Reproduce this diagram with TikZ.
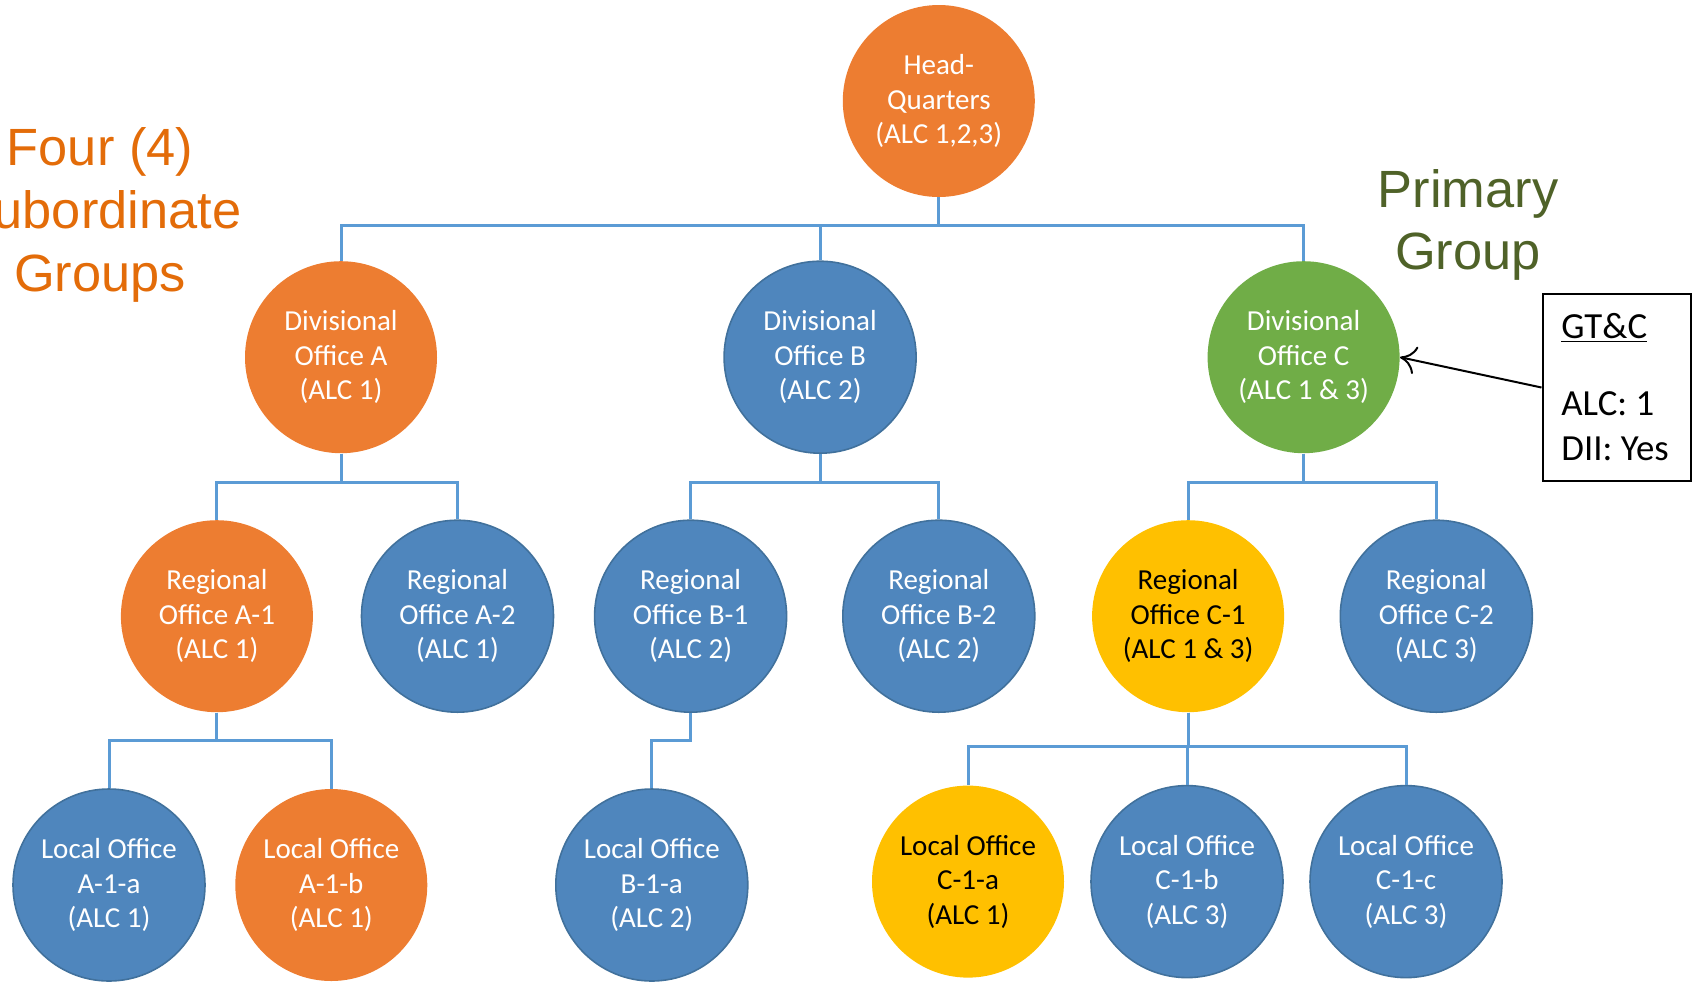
\documentclass[tikz,border=0pt]{standalone}
\usepackage{fontspec}
\setmainfont{Carlito}
\newfontfamily\arialf{Liberation Sans}
\usetikzlibrary{arrows.meta}
\definecolor{orgC}{HTML}{ED7D31}
\definecolor{bluC}{HTML}{4F86BD}
\definecolor{bluD}{HTML}{41719C}
\definecolor{grnC}{HTML}{70AD47}
\definecolor{gldC}{HTML}{FFC000}
\definecolor{lineC}{HTML}{5B9BD5}
\definecolor{orgT}{HTML}{E36C09}
\definecolor{grnT}{HTML}{4F6228}
\begin{document}
\begin{tikzpicture}[x=0.5pt,y=-0.5pt,
  office/.style={circle, minimum size=96pt, inner sep=0pt, align=center,
    font=\fontsize{14.5}{17.25}\selectfont, text=white},
  orangeN/.style={office, fill=orgC},
  blueN/.style={office, fill=bluC, draw=bluD, line width=0.8pt},
  greenN/.style={office, fill=grnC},
  goldN/.style={office, fill=gldC, text=black},
  link/.style={draw=lineC, line width=1.5pt},
  bigtext/.style={align=center, font=\arialf\fontsize{26.2}{31.35}\selectfont},
  boxtext/.style={anchor=base west, inner sep=0pt, font=\fontsize{18.4}{22}\selectfont}
]
\useasboundingbox (0,0) rectangle (1692,981);

% nodes
\node[orangeN] (hq) at (938.8,101) {Head-\\Quarters\\(ALC 1,2,3)};

\node[orangeN] (da) at (341,357.2) {Divisional\\Office A\\(ALC 1)};
\node[blueN]   (db) at (820.1,357.2) {Divisional\\Office B\\(ALC 2)};
\node[greenN]  (dc) at (1303.6,357.2) {Divisional\\Office C\\(ALC 1 \& 3)};

\node[orangeN] (ra1) at (216.9,616.2) {Regional\\Office A-1\\(ALC 1)};
\node[blueN]   (ra2) at (457.5,616.2) {Regional\\Office A-2\\(ALC 1)};
\node[blueN]   (rb1) at (690.6,616.2) {Regional\\Office B-1\\(ALC 2)};
\node[blueN]   (rb2) at (938.8,616.2) {Regional\\Office B-2\\(ALC 2)};
\node[goldN]   (rc1) at (1188.1,616.2) {Regional\\Office C-1\\(ALC 1 \& 3)};
\node[blueN]   (rc2) at (1436.3,616.2) {Regional\\Office C-2\\(ALC 3)};

\node[blueN]   (la1a) at (109,885) {Local Office\\A-1-a\\(ALC 1)};
\node[orangeN] (la1b) at (331.3,885) {Local Office\\A-1-b\\(ALC 1)};
\node[blueN]   (lb1a) at (651.8,885) {Local Office\\B-1-a\\(ALC 2)};
\node[goldN]   (lc1a) at (968,881.6) {Local Office\\C-1-a\\(ALC 1)};
\node[blueN]   (lc1b) at (1187,881.6) {Local Office\\C-1-b\\(ALC 3)};
\node[blueN]   (lc1c) at (1406,881.6) {Local Office\\C-1-c\\(ALC 3)};

% connectors
\foreach \c in {da,db,dc}
  \draw[link] (hq.south) -- (hq.south |- 0,225) -| (\c.north);
\foreach \c in {ra1,ra2}
  \draw[link] (da.south) -- (da.south |- 0,482) -| (\c.north);
\foreach \c in {rb1,rb2}
  \draw[link] (db.south) -- (db.south |- 0,482) -| (\c.north);
\foreach \c in {rc1,rc2}
  \draw[link] (dc.south) -- (dc.south |- 0,482) -| (\c.north);
\foreach \c in {la1a,la1b}
  \draw[link] (ra1.south) -- (ra1.south |- 0,740) -| (\c.north);
\draw[link] (rb1.south) -- (rb1.south |- 0,740) -| (lb1a.north);
\foreach \c in {lc1a,lc1b,lc1c}
  \draw[link] (rc1.south) -- (rc1.south |- 0,746) -| (\c.north);

% group labels
\node[bigtext, text=orgT] (four) at (100,215) {Four (4)\\Subordinate\\Groups};
\node[bigtext, text=grnT] (prim) at (1468,225) {Primary\\Group};

% GT&C box
\node[draw=black, line width=1pt, minimum width=74pt, minimum height=93.5pt,
      inner sep=0pt] (gtc) at (1616.5,387.5) {};
\node[boxtext] (gtct) at (1561,338.5) {\underline{GT\&C}};
\node[boxtext] (gtca) at (1561,415) {ALC: 1};
\node[boxtext] (gtcd) at (1561,460) {DII: Yes};
\draw[line width=1pt, -{To[length=8pt,width=14pt]}] (gtc.west) -- (dc.east);
\end{tikzpicture}
\end{document}
